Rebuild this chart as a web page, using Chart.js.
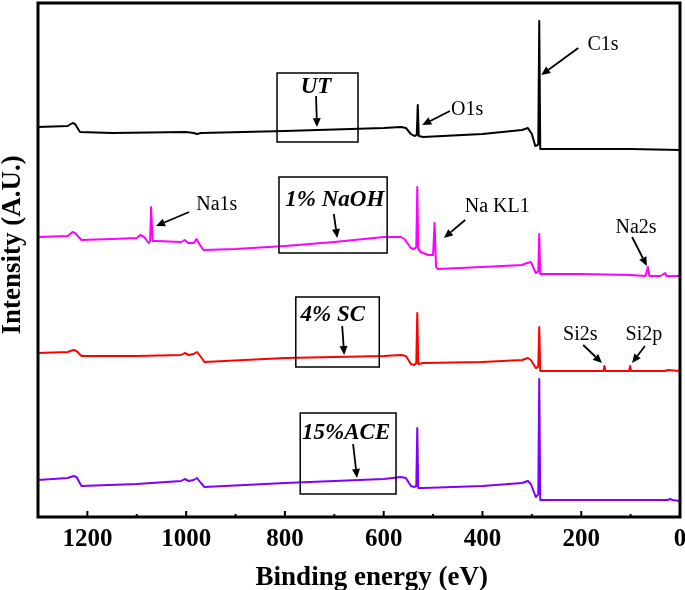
<!DOCTYPE html>
<html>
<head>
<meta charset="utf-8">
<script src="https://cdn.jsdelivr.net/npm/chart.js@4.4.0/dist/chart.umd.min.js"></script>
<style>
html, body { margin: 0; padding: 0; background: #fff; }
</style>
</head>
<body>
<canvas id="xps" width="685" height="590"></canvas>
<script>
// XPS survey spectra, binding energy (eV) vs intensity (a.u., offset stacked)
var majorTicks = [0, 200, 400, 600, 800, 1000, 1200];
var minorTicks = [100, 300, 500, 700, 900, 1100];

// UT (untreated)
var utE = [1300, 1240, 1230, 1225, 1215, 1150, 1000, 985, 978, 970, 800, 600, 565, 555, 545, 538, 533, 531, 529, 520, 400, 320, 308, 300, 293, 288, 287, 285, 283, 270, 100, 0];
var utI = [390, 391, 394, 393, 385, 384, 385, 384, 383, 384, 386, 389, 390, 389, 383, 381, 382, 412, 381, 380, 383, 387, 389, 383, 371, 372, 373, 496, 368, 368, 368, 367];

// 1% NaOH
var naohE = [1300, 1240, 1230, 1225, 1212, 1150, 1100, 1093, 1085, 1076, 1073, 1071, 1068, 1060, 1010, 1003, 996, 985, 979, 972, 965, 900, 800, 700, 600, 565, 558, 545, 538, 534, 532, 530, 525, 510, 500, 497, 494, 490, 400, 320, 310, 302, 292, 288, 287, 285, 283, 200, 100, 70, 65, 62, 40, 30, 27, 0];
var naohI = [280, 281, 285, 284, 277, 278, 279, 282, 280, 274, 276, 310, 276, 276, 275, 277, 274, 274, 278, 272, 267, 268, 271, 275, 280, 280, 278, 269, 268, 270, 330, 268, 265, 262, 262, 294, 250, 248, 250, 252, 254, 255, 244, 245, 246, 283, 243, 243, 242, 241, 250, 241, 241, 244, 241, 241];

// 4% SC
var scE = [1300, 1240, 1228, 1222, 1212, 1100, 1010, 1003, 995, 985, 978, 970, 963, 800, 600, 565, 555, 545, 538, 534, 532, 530, 520, 400, 320, 308, 302, 292, 288, 287, 285, 283, 200, 155, 153, 151, 103, 101, 99, 30, 25, 0];
var scI = [164, 165, 167, 166, 161, 161, 162, 164, 162, 163, 165, 160, 155, 159, 161, 162, 161, 153, 152, 154, 204, 153, 154, 155, 157, 159, 157, 149, 150, 151, 190, 146, 146, 146, 151, 146, 146, 151, 146, 146, 147, 146];

// 15% ACE
var aceE = [1300, 1240, 1228, 1222, 1212, 1100, 1010, 1003, 995, 985, 978, 970, 963, 800, 600, 565, 555, 545, 538, 534, 532, 530, 520, 400, 320, 308, 302, 292, 288, 287, 285, 283, 200, 100, 25, 20, 15, 0];
var aceI = [37, 39, 41, 40, 31, 33, 36, 38, 36, 37, 39, 34, 30, 34, 38, 40, 39, 31, 30, 31, 89, 29, 29, 31, 34, 36, 33, 20, 22, 23, 138, 17, 17, 17, 17, 18, 17, 16];

var seriesNames = ['UT', '1% NaOH', '4% SC', '15%ACE'];
var seriesColors = ['#000000', '#ff00ff', '#ff0000', '#8000ff'];

// sample boxes: [left E, right E, top I, bottom I], label pos, arrow [fromE, fromI, toE, toI]
var boxes = [
    { text: 'UT', box: [816, 652, 444, 375], at: [737, 430], arrow: [737, 421, 735, 390] },
    { text: '1% NaOH', box: [812, 593, 340, 264], at: [699, 317], arrow: [701, 303, 694, 279] },
    { text: '4% SC', box: [778, 609, 220, 150], at: [703, 202], arrow: [684, 191, 680, 162] },
    { text: '15%ACE', box: [769, 575, 104, 23], at: [676, 84], arrow: [662, 73, 654, 39] }
];
// peak labels
var peaks = [
    { text: 'C1s', at: [156, 472], arrow: [206, 469, 281, 442] },
    { text: 'O1s', at: [431, 407], arrow: [466, 406, 522, 392] },
    { text: 'Na1s', at: [938, 312], arrow: [994, 305, 1061, 291] },
    { text: 'Na KL1', at: [370, 310], arrow: [435, 297, 478, 279] },
    { text: 'Na2s', at: [89, 289], arrow: [97, 280, 67, 251] },
    { text: 'Si2s', at: [202, 182], arrow: [196, 172, 158, 154] },
    { text: 'Si2p', at: [73, 182], arrow: [71, 171, 97, 154] }
];
var yTitle = 'Intensity (A.U.)';
var xTitle = 'Binding energy (eV)';

function pts(e, v) {
    return e.map(function(x, i) { return { x: x, y: v[i] }; });
}

function arrow(ctx, x1, y1, x2, y2) {
    var a = Math.atan2(y2 - y1, x2 - x1);
    var hl = 9, hw = 4;
    var bx = x2 - hl * Math.cos(a), by = y2 - hl * Math.sin(a);
    ctx.beginPath();
    ctx.moveTo(x1, y1);
    ctx.lineTo(bx, by);
    ctx.stroke();
    ctx.beginPath();
    ctx.moveTo(x2, y2);
    ctx.lineTo(bx + hw * Math.sin(a), by - hw * Math.cos(a));
    ctx.lineTo(bx - hw * Math.sin(a), by + hw * Math.cos(a));
    ctx.closePath();
    ctx.fill();
}

var decor = {
    id: 'decor',
    afterDatasetsDraw: function(chart) {
        var ctx = chart.ctx, xs = chart.scales.x, ys = chart.scales.y, ca = chart.chartArea;
        ctx.save();
        ctx.strokeStyle = '#000';
        ctx.fillStyle = '#000';
        // inward ticks
        ctx.lineWidth = 2;
        majorTicks.forEach(function(v) {
            var px = xs.getPixelForValue(v);
            ctx.beginPath(); ctx.moveTo(px, ca.bottom); ctx.lineTo(px, ca.bottom - 6); ctx.stroke();
        });
        minorTicks.forEach(function(v) {
            var px = xs.getPixelForValue(v);
            ctx.beginPath(); ctx.moveTo(px, ca.bottom); ctx.lineTo(px, ca.bottom - 3); ctx.stroke();
        });
        // frame
        ctx.lineWidth = 3;
        ctx.strokeRect(ca.left, ca.top, ca.right - ca.left, ca.bottom - ca.top);
        // boxes
        ctx.textAlign = 'center';
        ctx.textBaseline = 'middle';
        boxes.forEach(function(b) {
            var l = xs.getPixelForValue(b.box[0]), r = xs.getPixelForValue(b.box[1]);
            var t = ys.getPixelForValue(b.box[2]), bt = ys.getPixelForValue(b.box[3]);
            ctx.lineWidth = 1.5;
            ctx.strokeRect(l, t, r - l, bt - t);
            ctx.font = 'italic bold 23px "Liberation Serif"';
            ctx.fillText(b.text, xs.getPixelForValue(b.at[0]), ys.getPixelForValue(b.at[1]));
            ctx.lineWidth = 1.8;
            arrow(ctx, xs.getPixelForValue(b.arrow[0]), ys.getPixelForValue(b.arrow[1]),
                xs.getPixelForValue(b.arrow[2]), ys.getPixelForValue(b.arrow[3]));
        });
        peaks.forEach(function(p) {
            ctx.font = '20px "Liberation Serif"';
            ctx.fillText(p.text, xs.getPixelForValue(p.at[0]), ys.getPixelForValue(p.at[1]));
            ctx.lineWidth = 1.8;
            arrow(ctx, xs.getPixelForValue(p.arrow[0]), ys.getPixelForValue(p.arrow[1]),
                xs.getPixelForValue(p.arrow[2]), ys.getPixelForValue(p.arrow[3]));
        });
        // x axis title, a bit right of the plot centre as in the original
        ctx.font = 'bold 27px "Liberation Serif"';
        ctx.fillText(xTitle, xs.getPixelForValue(624), ca.bottom + 61);
        // y axis title, a little above the plot centre
        ctx.translate(13, ys.getPixelForValue(272));
        ctx.rotate(-Math.PI / 2);
        ctx.fillText(yTitle, 0, 0);
        ctx.restore();
    }
};

var ctx = document.getElementById('xps').getContext('2d');
var xpsChart = new Chart(ctx, {
    type: 'line',
    data: {
        datasets: [
            { label: seriesNames[0], data: pts(utE, utI), borderColor: seriesColors[0] },
            { label: seriesNames[1], data: pts(naohE, naohI), borderColor: seriesColors[1] },
            { label: seriesNames[2], data: pts(scE, scI), borderColor: seriesColors[2] },
            { label: seriesNames[3], data: pts(aceE, aceI), borderColor: seriesColors[3] }
        ]
    },
    options: {
        responsive: false,
        animation: false,
        events: [],
        layout: { padding: { left: 0, right: 5, top: 3, bottom: 0 } },
        elements: {
            point: { radius: 0 },
            line: { borderWidth: 2, tension: 0, borderJoinStyle: 'round' }
        },
        plugins: { legend: { display: false }, tooltip: { enabled: false } },
        scales: {
            x: {
                type: 'linear',
                reverse: true,
                min: 0,
                max: 1300,
                afterBuildTicks: function(axis) {
                    axis.ticks = majorTicks.map(function(v) { return { value: v }; });
                },
                afterFit: function(axis) { axis.height = 73; },
                grid: { display: false, drawTicks: false },
                border: { display: false },
                ticks: {
                    color: '#000',
                    padding: 8,
                    maxRotation: 0,
                    autoSkip: false,
                    callback: function(v) { return String(v); },
                    font: { family: 'Liberation Serif', weight: 'bold', size: 25 }
                },
                title: { display: false }
            },
            y: {
                min: 0,
                max: 514,
                afterFit: function(axis) { axis.width = 38; },
                grid: { display: false, drawTicks: false },
                border: { display: false },
                ticks: { display: false },
                title: { display: false }
            }
        }
    },
    plugins: [decor]
});
</script>
</body>
</html>
